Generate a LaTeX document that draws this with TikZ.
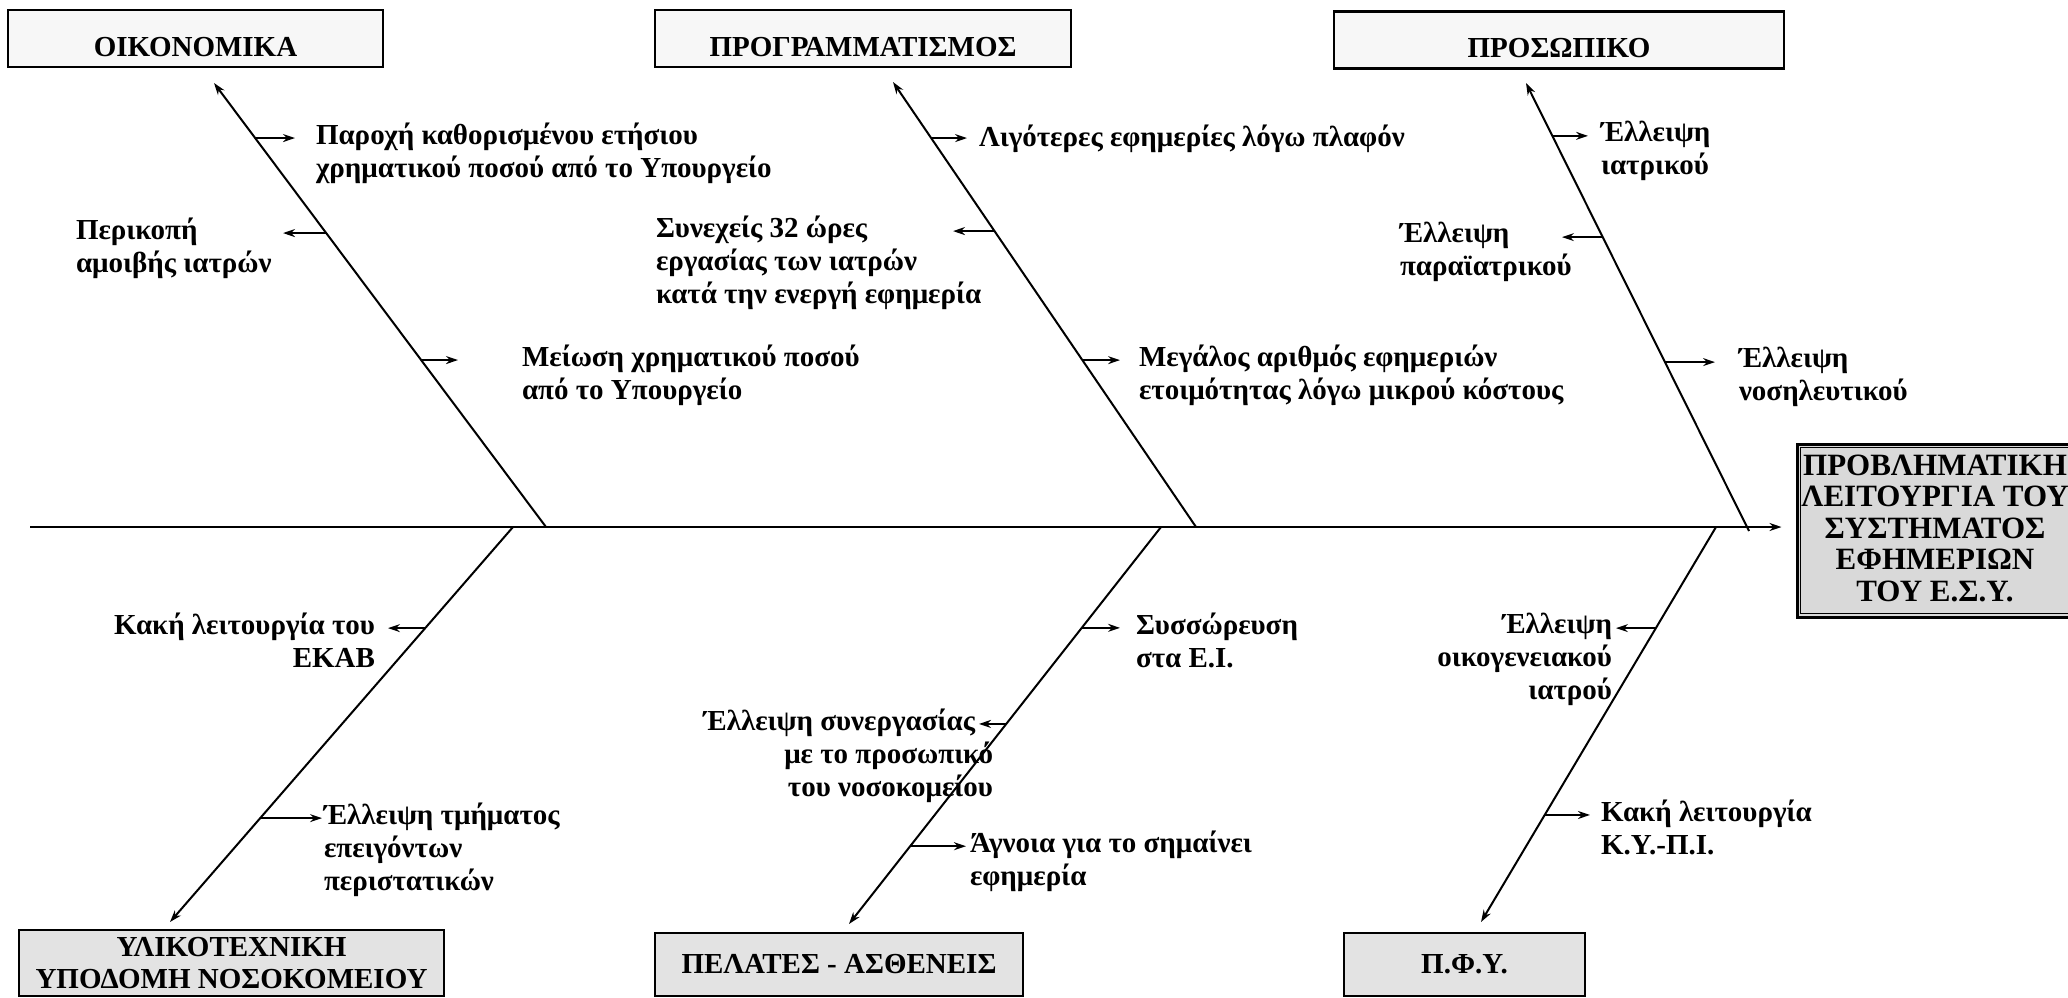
\documentclass[tikz,border=0pt]{standalone}
\usepackage{fontspec}
\setmainfont{Liberation Serif}
\usetikzlibrary{arrows.meta,calc}

\begin{document}
\begin{tikzpicture}[x=1pt,y=-1pt,>={Stealth[length=12pt,width=8pt]},
		line width=2pt,
		top box/.style={draw,line width=2.2pt,fill=gray!6,inner sep=0pt,text height=35pt,text depth=0pt,font=\bfseries\fontsize{29}{34}\selectfont},
		low box/.style={draw,line width=2.2pt,fill=gray!22,inner sep=0pt,align=center,font=\bfseries\fontsize{29}{32}\selectfont},
		head box/.style={draw,line width=3pt,fill=gray!30,inner sep=0pt},
		lbl/.style={inner sep=0pt,yshift=16pt,font=\bfseries\fontsize{29}{33}\selectfont,execute at begin node=\strut},
		sub/.style={->,line width=1.8pt}]
		\useasboundingbox (0,0) rectangle (2068,997);

		% category boxes
		\node[top box, minimum width=375pt, minimum height=57pt] (oik) at (195.5,38.5) {ΟΙΚΟΝΟΜΙΚΑ};
		\node[top box, minimum width=416pt, minimum height=57pt] (prog) at (863,38.5) {ΠΡΟΓΡΑΜΜΑΤΙΣΜΟΣ};
		\node[top box, minimum width=450pt, minimum height=57pt] (pros) at (1559,40) {ΠΡΟΣΩΠΙΚΟ};
		\node[low box, minimum width=425pt, minimum height=66pt] (yli) at (231.5,963) {ΥΛΙΚΟΤΕΧΝΙΚΗ\\ΥΠΟΔΟΜΗ ΝΟΣΟΚΟΜΕΙΟΥ};
		\node[low box, minimum width=368pt, minimum height=63pt] (pel) at (839,964.5) {ΠΕΛΑΤΕΣ - ΑΣΘΕΝΕΙΣ};
		\node[low box, minimum width=241pt, minimum height=63pt] (pfy) at (1464.5,964.5) {Π.Φ.Υ.};

		% effect
		\node[head box, minimum width=320pt, minimum height=173pt] (hd) at (1957,530.5) {};
		\draw[line width=1pt] ([shift={(5pt,-5pt)}]hd.north west) rectangle ([shift={(-5pt,5pt)}]hd.south east);
		\node[inner sep=0pt,align=center,font=\bfseries\fontsize{31}{31.5}\selectfont] (hdtext) at (1935,528) {ΠΡΟΒΛΗΜΑΤΙΚΗ\\ΛΕΙΤΟΥΡΓΙΑ ΤΟΥ\\ΣΥΣΤΗΜΑΤΟΣ\\ΕΦΗΜΕΡΙΩΝ\\ΤΟΥ Ε.Σ.Υ.};

		% backbone
		\coordinate (tail) at (30,527);
		\draw[->,line width=2.4pt,shorten >=14pt] (tail) -- (tail -| hd.west);

		% spines
		\coordinate (j1) at (546,527);  \coordinate (e1) at (214,83);
		\coordinate (j2) at (1196,527); \coordinate (e2) at (893,82);
		\coordinate (j3) at (1749,531); \coordinate (e3) at (1526,83);
		\coordinate (j4) at (513,527);  \coordinate (e4) at (170,922);
		\coordinate (j5) at (1161,527); \coordinate (e5) at (849,924);
		\coordinate (j6) at (1716,527); \coordinate (e6) at (1481,922);
		\draw[->] (j1) -- coordinate[pos=.876] (b1a) coordinate[pos=.662] (b1b) coordinate[pos=.376] (b1c) (e1);
		\draw[->] (j2) -- coordinate[pos=.874] (b2a) coordinate[pos=.665] (b2b) coordinate[pos=.375] (b2c) (e2);
		\draw[->] (j3) -- coordinate[pos=.882] (b3a) coordinate[pos=.656] (b3b) coordinate[pos=.377] (b3c) (e3);
		\draw[->] (j4) -- coordinate[pos=.256] (b4a) coordinate[pos=.737] (b4b) (e4);
		\draw[->] (j5) -- coordinate[pos=.254] (b5a) coordinate[pos=.496] (b5b) coordinate[pos=.804] (b5c) (e5);
		\draw[->] (j6) -- coordinate[pos=.256] (b6a) coordinate[pos=.729] (b6b) (e6);

		% causes: ΟΙΚΟΝΟΜΙΚΑ
		\coordinate (t1a) at (295,138);
		\coordinate (t1b) at (283,233);
		\coordinate (t1c) at (458,360);
		\draw[sub] (b1a) -- (b1a -| t1a);
		\draw[sub] (b1b) -- (b1b -| t1b);
		\draw[sub] (b1c) -- (b1c -| t1c);
		\node[lbl,anchor=north west,align=left] (p1a) at (315,138) {Παροχή καθορισμένου ετήσιου\\χρηματικού ποσού από το Υπουργείο};
		\node[lbl,anchor=north west,align=left] (p1b) at (75,233) {Περικοπή\\αμοιβής ιατρών};
		\node[lbl,anchor=north west,align=left] (p1c) at (521,360) {Μείωση χρηματικού ποσού\\από το Υπουργείο};

		% causes: ΠΡΟΓΡΑΜΜΑΤΙΣΜΟΣ
		\coordinate (t2a) at (967,138);
		\coordinate (t2b) at (953,231);
		\coordinate (t2c) at (1120,360);
		\draw[sub] (b2a) -- (b2a -| t2a);
		\draw[sub] (b2b) -- (b2b -| t2b);
		\draw[sub] (b2c) -- (b2c -| t2c);
		\node[lbl,anchor=north west] (p2a) at (978,138) {Λιγότερες εφημερίες λόγω πλαφόν};
		\node[lbl,anchor=north west,align=left] (p2b) at (655,231) {Συνεχείς 32 ώρες\\εργασίας των ιατρών\\κατά την ενεργή εφημερία};
		\node[lbl,anchor=north west,align=left] (p2c) at (1138,360) {Μεγάλος αριθμός εφημεριών\\ετοιμότητας λόγω μικρού κόστους};

		% causes: ΠΡΟΣΩΠΙΚΟ
		\coordinate (t3a) at (1588,136);
		\coordinate (t3b) at (1562,237);
		\coordinate (t3c) at (1715,362);
		\draw[sub] (b3a) -- (b3a -| t3a);
		\draw[sub] (b3b) -- (b3b -| t3b);
		\draw[sub] (b3c) -- (b3c -| t3c);
		\node[lbl,anchor=north west,align=left] (p3a) at (1600,136) {Έλλειψη\\ιατρικού};
		\node[lbl,anchor=north west,align=left] (p3b) at (1399,237) {Έλλειψη\\παραϊατρικού};
		\node[lbl,anchor=north west,align=left] (p3c) at (1738,362) {Έλλειψη\\νοσηλευτικού};

		% causes: ΥΛΙΚΟΤΕΧΝΙΚΗ ΥΠΟΔΟΜΗ
		\coordinate (t4a) at (388,628);
		\coordinate (t4b) at (322,818);
		\draw[sub] (b4a) -- (b4a -| t4a);
		\draw[sub] (b4b) -- (b4b -| t4b);
		\node[lbl,anchor=north east,align=right] (p4a) at (376,628) {Κακή λειτουργία του\\ΕΚΑΒ};
		\node[lbl,anchor=north west,align=left] (p4b) at (323,818) {Έλλειψη τμήματος\\επειγόντων\\περιστατικών};

		% causes: ΠΕΛΑΤΕΣ - ΑΣΘΕΝΕΙΣ
		\coordinate (t5a) at (1120,628);
		\coordinate (t5b) at (979,724);
		\coordinate (t5c) at (966,846);
		\draw[sub] (b5a) -- (b5a -| t5a);
		\draw[sub] (b5b) -- (b5b -| t5b);
		\draw[sub] (b5c) -- (b5c -| t5c);
		\node[lbl,anchor=north west,align=left] (p5a) at (1135,628) {Συσσώρευση\\στα Ε.Ι.};
		\node[lbl,anchor=north east,align=right] (p5b) at (994,724) {Έλλειψη συνεργασίας\hspace*{18pt}\\με το προσωπικό\\του νοσοκομείου};
		\node[lbl,anchor=north west,align=left] (p5c) at (969,846) {Άγνοια για το σημαίνει\\εφημερία};

		% causes: Π.Φ.Υ.
		\coordinate (t6a) at (1616,628);
		\coordinate (t6b) at (1590,815);
		\draw[sub] (b6a) -- (b6a -| t6a);
		\draw[sub] (b6b) -- (b6b -| t6b);
		\node[lbl,anchor=north east,align=right] (p6a) at (1613,628) {Έλλειψη\\οικογενειακού\\ιατρού};
		\node[lbl,anchor=north west,align=left] (p6b) at (1600,815) {Κακή λειτουργία\\Κ.Υ.-Π.Ι.};
\end{tikzpicture}
\end{document}
